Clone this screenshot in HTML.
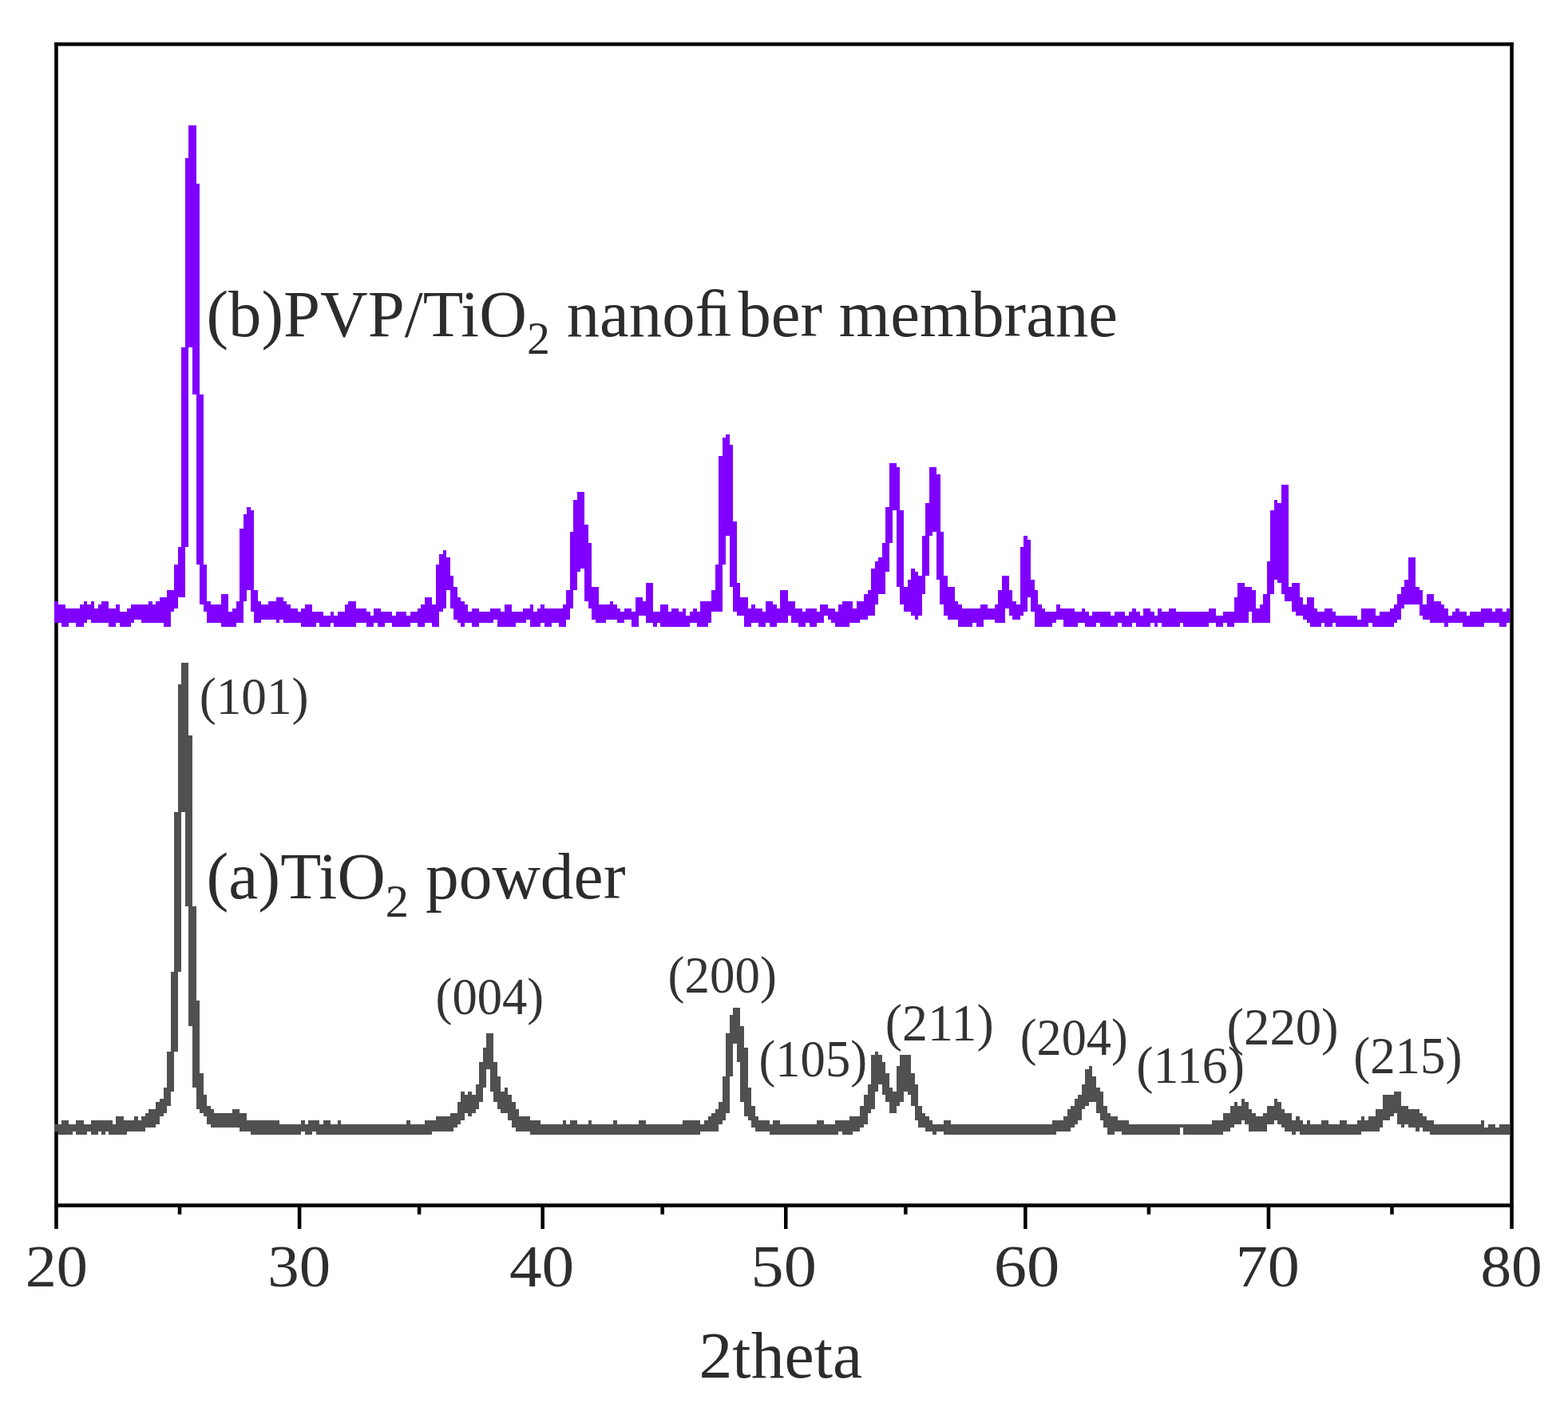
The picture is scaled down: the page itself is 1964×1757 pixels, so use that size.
<!DOCTYPE html>
<html><head><meta charset="utf-8"><style>html,body{margin:0;padding:0;background:#fff;width:1964px;height:1757px;overflow:hidden}svg{display:block}</style></head>
<body>
<svg width="1964" height="1757" viewBox="0 0 1964 1757">
<rect width="1964" height="1757" fill="#fff"/>
<rect x="68.19" y="53.10" width="1827.61" height="4.50" fill="#000"/>
<rect x="68.19" y="1507.20" width="1827.61" height="4.70" fill="#000"/>
<rect x="68.19" y="53.10" width="4.55" height="1485.90" fill="#000"/>
<rect x="1891.26" y="53.10" width="4.55" height="1485.90" fill="#000"/>
<rect x="372.80" y="1510.90" width="4.55" height="28.10" fill="#000"/>
<rect x="677.40" y="1510.90" width="4.55" height="28.10" fill="#000"/>
<rect x="982.00" y="1510.90" width="4.55" height="28.10" fill="#000"/>
<rect x="1282.06" y="1510.90" width="4.55" height="28.10" fill="#000"/>
<rect x="1586.66" y="1510.90" width="4.55" height="28.10" fill="#000"/>
<rect x="222.77" y="1510.90" width="4.55" height="9.90" fill="#000"/>
<rect x="522.82" y="1510.90" width="4.55" height="9.90" fill="#000"/>
<rect x="827.43" y="1510.90" width="4.55" height="9.90" fill="#000"/>
<rect x="1132.03" y="1510.90" width="4.55" height="9.90" fill="#000"/>
<rect x="1436.63" y="1510.90" width="4.55" height="9.90" fill="#000"/>
<rect x="1741.23" y="1510.90" width="4.55" height="9.90" fill="#000"/>
<path d="M68.19 1407.51h4.55v9.09h-4.55zM72.74 1407.51h4.55v13.64h-4.55zM77.29 1402.96h4.55v18.19h-4.55zM81.83 1402.96h4.55v18.19h-4.55zM86.38 1407.51h4.55v13.64h-4.55zM90.93 1407.51h4.55v9.09h-4.55zM95.47 1402.96h4.55v18.19h-4.55zM100.02 1402.96h4.55v18.19h-4.55zM104.56 1407.51h4.55v13.64h-4.55zM109.11 1407.51h4.55v9.09h-4.55zM113.66 1402.96h4.55v18.19h-4.55zM118.20 1402.96h4.55v18.19h-4.55zM122.75 1402.96h4.55v13.64h-4.55zM127.30 1402.96h4.55v18.19h-4.55zM131.84 1402.96h4.55v13.64h-4.55zM136.39 1402.96h4.55v18.19h-4.55zM140.94 1407.51h4.55v13.64h-4.55zM145.48 1398.41h4.55v22.73h-4.55zM150.03 1398.41h4.55v22.73h-4.55zM154.57 1402.96h4.55v18.19h-4.55zM159.12 1402.96h4.55v13.64h-4.55zM163.67 1402.96h4.55v13.64h-4.55zM168.21 1398.41h4.55v18.19h-4.55zM172.76 1402.96h4.55v13.64h-4.55zM177.31 1398.41h4.55v18.19h-4.55zM181.85 1393.87h4.55v18.19h-4.55zM186.40 1389.32h4.55v22.73h-4.55zM190.94 1389.32h4.55v22.73h-4.55zM195.49 1380.23h4.55v27.28h-4.55zM200.04 1375.68h4.55v22.73h-4.55zM204.58 1362.04h4.55v31.82h-4.55zM209.13 1316.58h4.55v68.19h-4.55zM213.68 1216.56h4.55v150.03h-4.55zM218.22 1016.52h4.55v300.06h-4.55zM222.77 857.40h4.55v359.16h-4.55zM227.31 830.13h4.55v186.40h-4.55zM231.86 830.13h4.55v304.60h-4.55zM236.41 921.05h4.55v363.70h-4.55zM240.95 1134.73h4.55v227.31h-4.55zM245.50 1252.93h4.55v136.39h-4.55zM250.05 1343.86h4.55v50.01h-4.55zM254.59 1371.14h4.55v27.28h-4.55zM259.14 1384.78h4.55v22.73h-4.55zM263.69 1389.32h4.55v22.73h-4.55zM268.23 1393.87h4.55v18.19h-4.55zM272.78 1393.87h4.55v18.19h-4.55zM277.32 1393.87h4.55v18.19h-4.55zM281.87 1393.87h4.55v18.19h-4.55zM286.42 1393.87h4.55v18.19h-4.55zM290.96 1389.32h4.55v22.73h-4.55zM295.51 1389.32h4.55v22.73h-4.55zM300.06 1393.87h4.55v22.73h-4.55zM304.60 1393.87h4.55v22.73h-4.55zM309.15 1402.96h4.55v13.64h-4.55zM313.69 1402.96h4.55v18.19h-4.55zM318.24 1402.96h4.55v18.19h-4.55zM322.79 1402.96h4.55v18.19h-4.55zM327.33 1402.96h4.55v18.19h-4.55zM331.88 1402.96h4.55v18.19h-4.55zM336.43 1402.96h4.55v18.19h-4.55zM340.97 1402.96h4.55v18.19h-4.55zM345.52 1402.96h4.55v18.19h-4.55zM350.07 1407.51h4.55v13.64h-4.55zM354.61 1407.51h4.55v13.64h-4.55zM359.16 1407.51h4.55v13.64h-4.55zM363.70 1407.51h4.55v13.64h-4.55zM368.25 1407.51h4.55v13.64h-4.55zM372.80 1407.51h4.55v13.64h-4.55zM377.34 1402.96h4.55v13.64h-4.55zM381.89 1407.51h4.55v13.64h-4.55zM386.44 1402.96h4.55v18.19h-4.55zM390.98 1402.96h4.55v13.64h-4.55zM395.53 1402.96h4.55v18.19h-4.55zM400.07 1407.51h4.55v13.64h-4.55zM404.62 1402.96h4.55v18.19h-4.55zM409.17 1402.96h4.55v18.19h-4.55zM413.71 1407.51h4.55v13.64h-4.55zM418.26 1407.51h4.55v13.64h-4.55zM422.81 1402.96h4.55v18.19h-4.55zM427.35 1407.51h4.55v13.64h-4.55zM431.90 1407.51h4.55v13.64h-4.55zM436.44 1407.51h4.55v13.64h-4.55zM440.99 1407.51h4.55v13.64h-4.55zM445.54 1407.51h4.55v13.64h-4.55zM450.08 1407.51h4.55v13.64h-4.55zM454.63 1407.51h4.55v13.64h-4.55zM459.18 1407.51h4.55v13.64h-4.55zM463.72 1407.51h4.55v13.64h-4.55zM468.27 1407.51h4.55v13.64h-4.55zM472.82 1407.51h4.55v13.64h-4.55zM477.36 1407.51h4.55v13.64h-4.55zM481.91 1407.51h4.55v13.64h-4.55zM486.45 1407.51h4.55v13.64h-4.55zM491.00 1407.51h4.55v13.64h-4.55zM495.55 1407.51h4.55v13.64h-4.55zM500.09 1407.51h4.55v13.64h-4.55zM504.64 1407.51h4.55v13.64h-4.55zM509.19 1402.96h4.55v18.19h-4.55zM513.73 1407.51h4.55v13.64h-4.55zM518.28 1407.51h4.55v13.64h-4.55zM522.82 1407.51h4.55v13.64h-4.55zM527.37 1407.51h4.55v13.64h-4.55zM531.92 1402.96h4.55v18.19h-4.55zM536.46 1402.96h4.55v18.19h-4.55zM541.01 1402.96h4.55v13.64h-4.55zM545.56 1398.41h4.55v18.19h-4.55zM550.10 1398.41h4.55v18.19h-4.55zM554.65 1398.41h4.55v18.19h-4.55zM559.19 1398.41h4.55v18.19h-4.55zM563.74 1393.87h4.55v22.73h-4.55zM568.29 1393.87h4.55v18.19h-4.55zM572.83 1380.23h4.55v27.28h-4.55zM577.38 1366.59h4.55v36.37h-4.55zM581.93 1371.14h4.55v22.73h-4.55zM586.47 1366.59h4.55v31.82h-4.55zM591.02 1371.14h4.55v22.73h-4.55zM595.57 1357.50h4.55v31.82h-4.55zM600.11 1330.22h4.55v50.01h-4.55zM604.66 1312.03h4.55v50.01h-4.55zM609.20 1293.85h4.55v45.46h-4.55zM613.75 1293.85h4.55v72.74h-4.55zM618.30 1330.22h4.55v50.01h-4.55zM622.84 1348.40h4.55v40.92h-4.55zM627.39 1366.59h4.55v27.28h-4.55zM631.94 1362.04h4.55v31.82h-4.55zM636.48 1371.14h4.55v31.82h-4.55zM641.03 1380.23h4.55v31.82h-4.55zM645.57 1389.32h4.55v27.28h-4.55zM650.12 1398.41h4.55v18.19h-4.55zM654.67 1398.41h4.55v18.19h-4.55zM659.21 1398.41h4.55v18.19h-4.55zM663.76 1402.96h4.55v18.19h-4.55zM668.31 1402.96h4.55v18.19h-4.55zM672.85 1402.96h4.55v18.19h-4.55zM677.40 1407.51h4.55v13.64h-4.55zM681.94 1407.51h4.55v13.64h-4.55zM686.49 1407.51h4.55v13.64h-4.55zM691.04 1407.51h4.55v13.64h-4.55zM695.58 1407.51h4.55v13.64h-4.55zM700.13 1407.51h4.55v13.64h-4.55zM704.68 1402.96h4.55v18.19h-4.55zM709.22 1407.51h4.55v13.64h-4.55zM713.77 1402.96h4.55v18.19h-4.55zM718.32 1402.96h4.55v18.19h-4.55zM722.86 1407.51h4.55v13.64h-4.55zM727.41 1407.51h4.55v13.64h-4.55zM731.95 1407.51h4.55v13.64h-4.55zM736.50 1402.96h4.55v18.19h-4.55zM741.05 1407.51h4.55v13.64h-4.55zM745.59 1407.51h4.55v13.64h-4.55zM750.14 1407.51h4.55v13.64h-4.55zM754.69 1407.51h4.55v13.64h-4.55zM759.23 1407.51h4.55v13.64h-4.55zM763.78 1407.51h4.55v13.64h-4.55zM768.32 1402.96h4.55v18.19h-4.55zM772.87 1407.51h4.55v13.64h-4.55zM777.42 1407.51h4.55v13.64h-4.55zM781.96 1407.51h4.55v13.64h-4.55zM786.51 1407.51h4.55v13.64h-4.55zM791.06 1407.51h4.55v13.64h-4.55zM795.60 1407.51h4.55v13.64h-4.55zM800.15 1402.96h4.55v18.19h-4.55zM804.70 1402.96h4.55v18.19h-4.55zM809.24 1407.51h4.55v13.64h-4.55zM813.79 1407.51h4.55v13.64h-4.55zM818.33 1407.51h4.55v13.64h-4.55zM822.88 1407.51h4.55v13.64h-4.55zM827.43 1407.51h4.55v13.64h-4.55zM831.97 1407.51h4.55v13.64h-4.55zM836.52 1407.51h4.55v13.64h-4.55zM841.07 1407.51h4.55v13.64h-4.55zM845.61 1407.51h4.55v13.64h-4.55zM850.16 1407.51h4.55v13.64h-4.55zM854.70 1402.96h4.55v18.19h-4.55zM859.25 1402.96h4.55v18.19h-4.55zM863.80 1402.96h4.55v18.19h-4.55zM868.34 1402.96h4.55v18.19h-4.55zM872.89 1402.96h4.55v18.19h-4.55zM877.44 1407.51h4.55v9.09h-4.55zM881.98 1402.96h4.55v13.64h-4.55zM886.53 1398.41h4.55v18.19h-4.55zM891.07 1393.87h4.55v22.73h-4.55zM895.62 1389.32h4.55v27.28h-4.55zM900.17 1380.23h4.55v27.28h-4.55zM904.71 1348.40h4.55v54.56h-4.55zM909.26 1293.85h4.55v100.02h-4.55zM913.81 1271.12h4.55v77.29h-4.55zM918.35 1262.03h4.55v45.46h-4.55zM922.90 1262.03h4.55v68.19h-4.55zM927.45 1284.76h4.55v95.47h-4.55zM931.99 1312.03h4.55v86.38h-4.55zM936.54 1362.04h4.55v40.92h-4.55zM941.08 1384.78h4.55v27.28h-4.55zM945.63 1398.41h4.55v18.19h-4.55zM950.18 1402.96h4.55v13.64h-4.55zM954.72 1402.96h4.55v13.64h-4.55zM959.27 1402.96h4.55v13.64h-4.55zM963.82 1407.51h4.55v13.64h-4.55zM968.36 1402.96h4.55v18.19h-4.55zM972.91 1402.96h4.55v18.19h-4.55zM977.45 1407.51h4.55v13.64h-4.55zM982.00 1407.51h4.55v13.64h-4.55zM986.55 1407.51h4.55v13.64h-4.55zM991.09 1407.51h4.55v13.64h-4.55zM995.64 1407.51h4.55v13.64h-4.55zM1000.19 1407.51h4.55v13.64h-4.55zM1004.73 1407.51h4.55v13.64h-4.55zM1009.28 1407.51h4.55v13.64h-4.55zM1013.82 1407.51h4.55v13.64h-4.55zM1018.37 1407.51h4.55v13.64h-4.55zM1022.92 1402.96h4.55v18.19h-4.55zM1027.46 1402.96h4.55v18.19h-4.55zM1032.01 1407.51h4.55v13.64h-4.55zM1036.56 1407.51h4.55v13.64h-4.55zM1041.10 1407.51h4.55v13.64h-4.55zM1045.65 1402.96h4.55v18.19h-4.55zM1050.20 1402.96h4.55v13.64h-4.55zM1054.74 1402.96h4.55v18.19h-4.55zM1059.29 1402.96h4.55v18.19h-4.55zM1063.83 1398.41h4.55v22.73h-4.55zM1068.38 1398.41h4.55v18.19h-4.55zM1072.93 1398.41h4.55v18.19h-4.55zM1077.47 1384.78h4.55v27.28h-4.55zM1082.02 1371.14h4.55v36.37h-4.55zM1086.57 1357.50h4.55v36.37h-4.55zM1091.11 1321.13h4.55v68.19h-4.55zM1095.66 1316.58h4.55v50.01h-4.55zM1100.20 1321.13h4.55v36.37h-4.55zM1104.75 1330.22h4.55v40.92h-4.55zM1109.30 1343.86h4.55v36.37h-4.55zM1113.84 1362.04h4.55v31.82h-4.55zM1118.39 1366.59h4.55v27.28h-4.55zM1122.94 1334.77h4.55v50.01h-4.55zM1127.48 1321.13h4.55v59.10h-4.55zM1132.03 1321.13h4.55v45.46h-4.55zM1136.57 1321.13h4.55v50.01h-4.55zM1141.12 1343.86h4.55v40.92h-4.55zM1145.67 1357.50h4.55v45.46h-4.55zM1150.21 1384.78h4.55v27.28h-4.55zM1154.76 1393.87h4.55v18.19h-4.55zM1159.31 1398.41h4.55v18.19h-4.55zM1163.85 1402.96h4.55v13.64h-4.55zM1168.40 1407.51h4.55v13.64h-4.55zM1172.95 1407.51h4.55v9.09h-4.55zM1177.49 1407.51h4.55v9.09h-4.55zM1182.04 1402.96h4.55v18.19h-4.55zM1186.58 1402.96h4.55v18.19h-4.55zM1191.13 1407.51h4.55v13.64h-4.55zM1195.68 1407.51h4.55v13.64h-4.55zM1200.22 1407.51h4.55v13.64h-4.55zM1204.77 1407.51h4.55v13.64h-4.55zM1209.32 1407.51h4.55v13.64h-4.55zM1213.86 1407.51h4.55v13.64h-4.55zM1218.41 1407.51h4.55v13.64h-4.55zM1222.95 1407.51h4.55v13.64h-4.55zM1227.50 1407.51h4.55v13.64h-4.55zM1232.05 1407.51h4.55v13.64h-4.55zM1236.59 1407.51h4.55v13.64h-4.55zM1241.14 1407.51h4.55v13.64h-4.55zM1245.69 1407.51h4.55v13.64h-4.55zM1250.23 1407.51h4.55v13.64h-4.55zM1254.78 1407.51h4.55v13.64h-4.55zM1259.33 1407.51h4.55v13.64h-4.55zM1263.87 1407.51h4.55v13.64h-4.55zM1268.42 1407.51h4.55v13.64h-4.55zM1272.96 1407.51h4.55v13.64h-4.55zM1277.51 1407.51h4.55v13.64h-4.55zM1282.06 1407.51h4.55v13.64h-4.55zM1286.60 1407.51h4.55v13.64h-4.55zM1291.15 1407.51h4.55v13.64h-4.55zM1295.70 1407.51h4.55v13.64h-4.55zM1300.24 1407.51h4.55v13.64h-4.55zM1304.79 1407.51h4.55v13.64h-4.55zM1309.33 1407.51h4.55v13.64h-4.55zM1313.88 1407.51h4.55v13.64h-4.55zM1318.43 1402.96h4.55v18.19h-4.55zM1322.97 1402.96h4.55v13.64h-4.55zM1327.52 1402.96h4.55v13.64h-4.55zM1332.07 1398.41h4.55v18.19h-4.55zM1336.61 1389.32h4.55v27.28h-4.55zM1341.16 1384.78h4.55v27.28h-4.55zM1345.70 1375.68h4.55v31.82h-4.55zM1350.25 1371.14h4.55v31.82h-4.55zM1354.80 1357.50h4.55v31.82h-4.55zM1359.34 1339.31h4.55v45.46h-4.55zM1363.89 1334.77h4.55v45.46h-4.55zM1368.44 1348.40h4.55v31.82h-4.55zM1372.98 1362.04h4.55v31.82h-4.55zM1377.53 1366.59h4.55v36.37h-4.55zM1382.08 1384.78h4.55v27.28h-4.55zM1386.62 1393.87h4.55v27.28h-4.55zM1391.17 1398.41h4.55v22.73h-4.55zM1395.71 1398.41h4.55v18.19h-4.55zM1400.26 1402.96h4.55v13.64h-4.55zM1404.81 1402.96h4.55v18.19h-4.55zM1409.35 1402.96h4.55v18.19h-4.55zM1413.90 1407.51h4.55v13.64h-4.55zM1418.45 1407.51h4.55v13.64h-4.55zM1422.99 1407.51h4.55v13.64h-4.55zM1427.54 1407.51h4.55v13.64h-4.55zM1432.08 1407.51h4.55v13.64h-4.55zM1436.63 1407.51h4.55v13.64h-4.55zM1441.18 1407.51h4.55v13.64h-4.55zM1445.72 1407.51h4.55v13.64h-4.55zM1450.27 1407.51h4.55v13.64h-4.55zM1454.82 1407.51h4.55v13.64h-4.55zM1459.36 1407.51h4.55v13.64h-4.55zM1463.91 1407.51h4.55v13.64h-4.55zM1468.45 1407.51h4.55v13.64h-4.55zM1473.00 1407.51h4.55v13.64h-4.55zM1477.55 1407.51h4.55v4.55h-4.55zM1482.09 1407.51h4.55v13.64h-4.55zM1486.64 1407.51h4.55v13.64h-4.55zM1491.19 1407.51h4.55v13.64h-4.55zM1495.73 1407.51h4.55v13.64h-4.55zM1500.28 1407.51h4.55v13.64h-4.55zM1504.83 1407.51h4.55v13.64h-4.55zM1509.37 1407.51h4.55v13.64h-4.55zM1513.92 1407.51h4.55v13.64h-4.55zM1518.46 1402.96h4.55v18.19h-4.55zM1523.01 1402.96h4.55v18.19h-4.55zM1527.56 1402.96h4.55v18.19h-4.55zM1532.10 1393.87h4.55v22.73h-4.55zM1536.65 1393.87h4.55v22.73h-4.55zM1541.20 1384.78h4.55v27.28h-4.55zM1545.74 1380.23h4.55v27.28h-4.55zM1550.29 1384.78h4.55v22.73h-4.55zM1554.83 1375.68h4.55v27.28h-4.55zM1559.38 1380.23h4.55v27.28h-4.55zM1563.93 1389.32h4.55v27.28h-4.55zM1568.47 1393.87h4.55v22.73h-4.55zM1573.02 1398.41h4.55v18.19h-4.55zM1577.57 1398.41h4.55v18.19h-4.55zM1582.11 1393.87h4.55v22.73h-4.55zM1586.66 1384.78h4.55v22.73h-4.55zM1591.20 1384.78h4.55v22.73h-4.55zM1595.75 1375.68h4.55v27.28h-4.55zM1600.30 1380.23h4.55v27.28h-4.55zM1604.84 1389.32h4.55v22.73h-4.55zM1609.39 1393.87h4.55v22.73h-4.55zM1613.94 1393.87h4.55v22.73h-4.55zM1618.48 1402.96h4.55v18.19h-4.55zM1623.03 1398.41h4.55v18.19h-4.55zM1627.58 1402.96h4.55v18.19h-4.55zM1632.12 1407.51h4.55v13.64h-4.55zM1636.67 1402.96h4.55v18.19h-4.55zM1641.21 1407.51h4.55v13.64h-4.55zM1645.76 1407.51h4.55v13.64h-4.55zM1650.31 1407.51h4.55v13.64h-4.55zM1654.85 1402.96h4.55v18.19h-4.55zM1659.40 1402.96h4.55v18.19h-4.55zM1663.95 1407.51h4.55v13.64h-4.55zM1668.49 1407.51h4.55v13.64h-4.55zM1673.04 1407.51h4.55v13.64h-4.55zM1677.58 1402.96h4.55v18.19h-4.55zM1682.13 1402.96h4.55v18.19h-4.55zM1686.68 1407.51h4.55v13.64h-4.55zM1691.22 1407.51h4.55v13.64h-4.55zM1695.77 1407.51h4.55v13.64h-4.55zM1700.32 1402.96h4.55v18.19h-4.55zM1704.86 1398.41h4.55v18.19h-4.55zM1709.41 1402.96h4.55v13.64h-4.55zM1713.96 1398.41h4.55v18.19h-4.55zM1718.50 1398.41h4.55v18.19h-4.55zM1723.05 1389.32h4.55v27.28h-4.55zM1727.59 1389.32h4.55v22.73h-4.55zM1732.14 1371.14h4.55v31.82h-4.55zM1736.69 1371.14h4.55v31.82h-4.55zM1741.23 1371.14h4.55v27.28h-4.55zM1745.78 1366.59h4.55v27.28h-4.55zM1750.33 1366.59h4.55v40.92h-4.55zM1754.87 1384.78h4.55v27.28h-4.55zM1759.42 1384.78h4.55v22.73h-4.55zM1763.96 1389.32h4.55v22.73h-4.55zM1768.51 1389.32h4.55v22.73h-4.55zM1773.06 1389.32h4.55v27.28h-4.55zM1777.60 1393.87h4.55v18.19h-4.55zM1782.15 1398.41h4.55v18.19h-4.55zM1786.70 1402.96h4.55v13.64h-4.55zM1791.24 1402.96h4.55v18.19h-4.55zM1795.79 1407.51h4.55v13.64h-4.55zM1800.33 1407.51h4.55v13.64h-4.55zM1804.88 1407.51h4.55v13.64h-4.55zM1809.43 1407.51h4.55v13.64h-4.55zM1813.97 1407.51h4.55v13.64h-4.55zM1818.52 1407.51h4.55v13.64h-4.55zM1823.07 1407.51h4.55v13.64h-4.55zM1827.61 1407.51h4.55v13.64h-4.55zM1832.16 1407.51h4.55v13.64h-4.55zM1836.71 1407.51h4.55v13.64h-4.55zM1841.25 1407.51h4.55v13.64h-4.55zM1845.80 1407.51h4.55v13.64h-4.55zM1850.34 1407.51h4.55v13.64h-4.55zM1854.89 1402.96h4.55v18.19h-4.55zM1859.44 1412.05h4.55v9.09h-4.55zM1863.98 1407.51h4.55v13.64h-4.55zM1868.53 1407.51h4.55v13.64h-4.55zM1873.08 1412.05h4.55v9.09h-4.55zM1877.62 1407.51h4.55v13.64h-4.55zM1882.17 1407.51h4.55v13.64h-4.55zM1886.71 1407.51h4.55v13.64h-4.55z" fill="#505050" shape-rendering="crispEdges"/>
<path d="M68.19 752.84h4.55v27.28h-4.55zM72.74 757.39h4.55v22.73h-4.55zM77.29 757.39h4.55v27.28h-4.55zM81.83 761.93h4.55v22.73h-4.55zM86.38 761.93h4.55v18.19h-4.55zM90.93 761.93h4.55v18.19h-4.55zM95.47 761.93h4.55v22.73h-4.55zM100.02 757.39h4.55v27.28h-4.55zM104.56 752.84h4.55v27.28h-4.55zM109.11 757.39h4.55v18.19h-4.55zM113.66 752.84h4.55v27.28h-4.55zM118.20 761.93h4.55v18.19h-4.55zM122.75 757.39h4.55v22.73h-4.55zM127.30 752.84h4.55v27.28h-4.55zM131.84 752.84h4.55v27.28h-4.55zM136.39 761.93h4.55v22.73h-4.55zM140.94 761.93h4.55v22.73h-4.55zM145.48 757.39h4.55v22.73h-4.55zM150.03 766.48h4.55v18.19h-4.55zM154.57 766.48h4.55v18.19h-4.55zM159.12 761.93h4.55v22.73h-4.55zM163.67 757.39h4.55v22.73h-4.55zM168.21 757.39h4.55v18.19h-4.55zM172.76 757.39h4.55v18.19h-4.55zM177.31 757.39h4.55v22.73h-4.55zM181.85 757.39h4.55v22.73h-4.55zM186.40 752.84h4.55v27.28h-4.55zM190.94 757.39h4.55v22.73h-4.55zM195.49 752.84h4.55v27.28h-4.55zM200.04 748.29h4.55v31.82h-4.55zM204.58 748.29h4.55v36.37h-4.55zM209.13 739.20h4.55v45.46h-4.55zM213.68 739.20h4.55v27.28h-4.55zM218.22 707.38h4.55v54.56h-4.55zM222.77 684.64h4.55v63.65h-4.55zM227.31 434.60h4.55v313.69h-4.55zM231.86 198.19h4.55v486.45h-4.55zM236.41 157.27h4.55v277.32h-4.55zM240.95 157.27h4.55v336.43h-4.55zM245.50 230.01h4.55v477.36h-4.55zM250.05 493.70h4.55v263.69h-4.55zM254.59 707.38h4.55v59.10h-4.55zM259.14 752.84h4.55v27.28h-4.55zM263.69 757.39h4.55v22.73h-4.55zM268.23 757.39h4.55v22.73h-4.55zM272.78 757.39h4.55v22.73h-4.55zM277.32 743.75h4.55v40.92h-4.55zM281.87 743.75h4.55v40.92h-4.55zM286.42 766.48h4.55v18.19h-4.55zM290.96 761.93h4.55v22.73h-4.55zM295.51 752.84h4.55v27.28h-4.55zM300.06 661.91h4.55v118.20h-4.55zM304.60 643.73h4.55v109.11h-4.55zM309.15 634.64h4.55v104.56h-4.55zM313.69 639.18h4.55v127.30h-4.55zM318.24 739.20h4.55v40.92h-4.55zM322.79 752.84h4.55v27.28h-4.55zM327.33 757.39h4.55v18.19h-4.55zM331.88 757.39h4.55v18.19h-4.55zM336.43 752.84h4.55v22.73h-4.55zM340.97 752.84h4.55v22.73h-4.55zM345.52 748.29h4.55v31.82h-4.55zM350.07 748.29h4.55v27.28h-4.55zM354.61 752.84h4.55v27.28h-4.55zM359.16 757.39h4.55v22.73h-4.55zM363.70 761.93h4.55v18.19h-4.55zM368.25 761.93h4.55v18.19h-4.55zM372.80 766.48h4.55v13.64h-4.55zM377.34 761.93h4.55v22.73h-4.55zM381.89 757.39h4.55v27.28h-4.55zM386.44 757.39h4.55v27.28h-4.55zM390.98 766.48h4.55v18.19h-4.55zM395.53 766.48h4.55v13.64h-4.55zM400.07 766.48h4.55v18.19h-4.55zM404.62 771.02h4.55v13.64h-4.55zM409.17 771.02h4.55v13.64h-4.55zM413.71 766.48h4.55v13.64h-4.55zM418.26 771.02h4.55v13.64h-4.55zM422.81 766.48h4.55v18.19h-4.55zM427.35 766.48h4.55v18.19h-4.55zM431.90 757.39h4.55v27.28h-4.55zM436.44 752.84h4.55v31.82h-4.55zM440.99 752.84h4.55v31.82h-4.55zM445.54 761.93h4.55v18.19h-4.55zM450.08 761.93h4.55v18.19h-4.55zM454.63 761.93h4.55v18.19h-4.55zM459.18 766.48h4.55v18.19h-4.55zM463.72 771.02h4.55v13.64h-4.55zM468.27 761.93h4.55v18.19h-4.55zM472.82 761.93h4.55v22.73h-4.55zM477.36 766.48h4.55v18.19h-4.55zM481.91 766.48h4.55v13.64h-4.55zM486.45 766.48h4.55v13.64h-4.55zM491.00 771.02h4.55v13.64h-4.55zM495.55 766.48h4.55v18.19h-4.55zM500.09 766.48h4.55v18.19h-4.55zM504.64 766.48h4.55v18.19h-4.55zM509.19 771.02h4.55v13.64h-4.55zM513.73 766.48h4.55v13.64h-4.55zM518.28 766.48h4.55v13.64h-4.55zM522.82 761.93h4.55v22.73h-4.55zM527.37 757.39h4.55v27.28h-4.55zM531.92 748.29h4.55v31.82h-4.55zM536.46 748.29h4.55v31.82h-4.55zM541.01 757.39h4.55v27.28h-4.55zM545.56 707.38h4.55v77.29h-4.55zM550.10 693.74h4.55v72.74h-4.55zM554.65 689.19h4.55v72.74h-4.55zM559.19 698.28h4.55v40.92h-4.55zM563.74 721.02h4.55v40.92h-4.55zM568.29 734.65h4.55v40.92h-4.55zM572.83 748.29h4.55v31.82h-4.55zM577.38 752.84h4.55v31.82h-4.55zM581.93 757.39h4.55v22.73h-4.55zM586.47 766.48h4.55v13.64h-4.55zM591.02 761.93h4.55v22.73h-4.55zM595.57 761.93h4.55v22.73h-4.55zM600.11 766.48h4.55v13.64h-4.55zM604.66 766.48h4.55v13.64h-4.55zM609.20 766.48h4.55v13.64h-4.55zM613.75 761.93h4.55v18.19h-4.55zM618.30 761.93h4.55v13.64h-4.55zM622.84 761.93h4.55v22.73h-4.55zM627.39 766.48h4.55v18.19h-4.55zM631.94 757.39h4.55v27.28h-4.55zM636.48 757.39h4.55v27.28h-4.55zM641.03 766.48h4.55v18.19h-4.55zM645.57 766.48h4.55v13.64h-4.55zM650.12 766.48h4.55v13.64h-4.55zM654.67 761.93h4.55v18.19h-4.55zM659.21 761.93h4.55v13.64h-4.55zM663.76 757.39h4.55v27.28h-4.55zM668.31 766.48h4.55v18.19h-4.55zM672.85 761.93h4.55v22.73h-4.55zM677.40 757.39h4.55v22.73h-4.55zM681.94 761.93h4.55v22.73h-4.55zM686.49 761.93h4.55v22.73h-4.55zM691.04 761.93h4.55v18.19h-4.55zM695.58 761.93h4.55v18.19h-4.55zM700.13 761.93h4.55v22.73h-4.55zM704.68 757.39h4.55v27.28h-4.55zM709.22 739.20h4.55v36.37h-4.55zM713.77 666.46h4.55v95.47h-4.55zM718.32 625.54h4.55v113.66h-4.55zM722.86 616.45h4.55v100.02h-4.55zM727.41 616.45h4.55v95.47h-4.55zM731.95 657.37h4.55v95.47h-4.55zM736.50 680.10h4.55v81.83h-4.55zM741.05 734.65h4.55v40.92h-4.55zM745.59 734.65h4.55v45.46h-4.55zM750.14 757.39h4.55v22.73h-4.55zM754.69 757.39h4.55v22.73h-4.55zM759.23 757.39h4.55v18.19h-4.55zM763.78 752.84h4.55v22.73h-4.55zM768.32 757.39h4.55v18.19h-4.55zM772.87 761.93h4.55v18.19h-4.55zM777.42 766.48h4.55v13.64h-4.55zM781.96 761.93h4.55v13.64h-4.55zM786.51 761.93h4.55v13.64h-4.55zM791.06 766.48h4.55v18.19h-4.55zM795.60 748.29h4.55v36.37h-4.55zM800.15 748.29h4.55v22.73h-4.55zM804.70 752.84h4.55v18.19h-4.55zM809.24 730.11h4.55v50.01h-4.55zM813.79 730.11h4.55v50.01h-4.55zM818.33 766.48h4.55v18.19h-4.55zM822.88 766.48h4.55v13.64h-4.55zM827.43 757.39h4.55v27.28h-4.55zM831.97 757.39h4.55v27.28h-4.55zM836.52 766.48h4.55v18.19h-4.55zM841.07 761.93h4.55v22.73h-4.55zM845.61 761.93h4.55v22.73h-4.55zM850.16 766.48h4.55v18.19h-4.55zM854.70 761.93h4.55v22.73h-4.55zM859.25 771.02h4.55v13.64h-4.55zM863.80 766.48h4.55v13.64h-4.55zM868.34 761.93h4.55v18.19h-4.55zM872.89 766.48h4.55v18.19h-4.55zM877.44 752.84h4.55v31.82h-4.55zM881.98 752.84h4.55v31.82h-4.55zM886.53 752.84h4.55v27.28h-4.55zM891.07 739.20h4.55v27.28h-4.55zM895.62 707.38h4.55v59.10h-4.55zM900.17 570.99h4.55v195.49h-4.55zM904.71 548.26h4.55v159.12h-4.55zM909.26 543.71h4.55v127.30h-4.55zM913.81 557.35h4.55v177.31h-4.55zM918.35 652.82h4.55v113.66h-4.55zM922.90 730.11h4.55v40.92h-4.55zM927.45 748.29h4.55v22.73h-4.55zM931.99 748.29h4.55v36.37h-4.55zM936.54 761.93h4.55v22.73h-4.55zM941.08 757.39h4.55v22.73h-4.55zM945.63 761.93h4.55v18.19h-4.55zM950.18 761.93h4.55v22.73h-4.55zM954.72 766.48h4.55v18.19h-4.55zM959.27 752.84h4.55v27.28h-4.55zM963.82 752.84h4.55v31.82h-4.55zM968.36 757.39h4.55v27.28h-4.55zM972.91 761.93h4.55v18.19h-4.55zM977.45 739.20h4.55v40.92h-4.55zM982.00 739.20h4.55v40.92h-4.55zM986.55 752.84h4.55v18.19h-4.55zM991.09 752.84h4.55v27.28h-4.55zM995.64 761.93h4.55v18.19h-4.55zM1000.19 761.93h4.55v22.73h-4.55zM1004.73 766.48h4.55v18.19h-4.55zM1009.28 761.93h4.55v18.19h-4.55zM1013.82 761.93h4.55v22.73h-4.55zM1018.37 761.93h4.55v22.73h-4.55zM1022.92 766.48h4.55v13.64h-4.55zM1027.46 757.39h4.55v22.73h-4.55zM1032.01 757.39h4.55v13.64h-4.55zM1036.56 761.93h4.55v13.64h-4.55zM1041.10 761.93h4.55v18.19h-4.55zM1045.65 766.48h4.55v18.19h-4.55zM1050.20 757.39h4.55v27.28h-4.55zM1054.74 752.84h4.55v31.82h-4.55zM1059.29 752.84h4.55v31.82h-4.55zM1063.83 752.84h4.55v27.28h-4.55zM1068.38 761.93h4.55v18.19h-4.55zM1072.93 752.84h4.55v27.28h-4.55zM1077.47 752.84h4.55v22.73h-4.55zM1082.02 743.75h4.55v31.82h-4.55zM1086.57 739.20h4.55v31.82h-4.55zM1091.11 711.92h4.55v59.10h-4.55zM1095.66 702.83h4.55v54.56h-4.55zM1100.20 698.28h4.55v45.46h-4.55zM1104.75 680.10h4.55v63.65h-4.55zM1109.30 634.64h4.55v81.83h-4.55zM1113.84 580.08h4.55v100.02h-4.55zM1118.39 580.08h4.55v59.10h-4.55zM1122.94 584.63h4.55v150.03h-4.55zM1127.48 639.18h4.55v118.20h-4.55zM1132.03 734.65h4.55v31.82h-4.55zM1136.57 725.56h4.55v40.92h-4.55zM1141.12 711.92h4.55v59.10h-4.55zM1145.67 716.47h4.55v59.10h-4.55zM1150.21 721.02h4.55v50.01h-4.55zM1154.76 671.01h4.55v72.74h-4.55zM1159.31 630.09h4.55v90.93h-4.55zM1163.85 584.63h4.55v86.38h-4.55zM1168.40 584.63h4.55v81.83h-4.55zM1172.95 593.72h4.55v131.84h-4.55zM1177.49 666.46h4.55v90.93h-4.55zM1182.04 721.02h4.55v50.01h-4.55zM1186.58 734.65h4.55v40.92h-4.55zM1191.13 734.65h4.55v40.92h-4.55zM1195.68 752.84h4.55v22.73h-4.55zM1200.22 757.39h4.55v27.28h-4.55zM1204.77 761.93h4.55v22.73h-4.55zM1209.32 761.93h4.55v22.73h-4.55zM1213.86 761.93h4.55v22.73h-4.55zM1218.41 761.93h4.55v18.19h-4.55zM1222.95 761.93h4.55v22.73h-4.55zM1227.50 757.39h4.55v27.28h-4.55zM1232.05 757.39h4.55v18.19h-4.55zM1236.59 761.93h4.55v13.64h-4.55zM1241.14 761.93h4.55v13.64h-4.55zM1245.69 757.39h4.55v22.73h-4.55zM1250.23 739.20h4.55v40.92h-4.55zM1254.78 721.02h4.55v59.10h-4.55zM1259.33 721.02h4.55v40.92h-4.55zM1263.87 739.20h4.55v31.82h-4.55zM1268.42 752.84h4.55v22.73h-4.55zM1272.96 757.39h4.55v18.19h-4.55zM1277.51 684.64h4.55v86.38h-4.55zM1282.06 671.01h4.55v95.47h-4.55zM1286.60 675.55h4.55v72.74h-4.55zM1291.15 725.56h4.55v40.92h-4.55zM1295.70 739.20h4.55v45.46h-4.55zM1300.24 757.39h4.55v27.28h-4.55zM1304.79 761.93h4.55v22.73h-4.55zM1309.33 766.48h4.55v18.19h-4.55zM1313.88 766.48h4.55v18.19h-4.55zM1318.43 766.48h4.55v13.64h-4.55zM1322.97 757.39h4.55v18.19h-4.55zM1327.52 761.93h4.55v13.64h-4.55zM1332.07 761.93h4.55v22.73h-4.55zM1336.61 761.93h4.55v22.73h-4.55zM1341.16 761.93h4.55v22.73h-4.55zM1345.70 766.48h4.55v18.19h-4.55zM1350.25 766.48h4.55v13.64h-4.55zM1354.80 761.93h4.55v18.19h-4.55zM1359.34 766.48h4.55v18.19h-4.55zM1363.89 771.02h4.55v13.64h-4.55zM1368.44 766.48h4.55v18.19h-4.55zM1372.98 766.48h4.55v13.64h-4.55zM1377.53 766.48h4.55v18.19h-4.55zM1382.08 766.48h4.55v18.19h-4.55zM1386.62 766.48h4.55v18.19h-4.55zM1391.17 771.02h4.55v13.64h-4.55zM1395.71 766.48h4.55v18.19h-4.55zM1400.26 766.48h4.55v13.64h-4.55zM1404.81 766.48h4.55v18.19h-4.55zM1409.35 771.02h4.55v13.64h-4.55zM1413.90 766.48h4.55v18.19h-4.55zM1418.45 761.93h4.55v18.19h-4.55zM1422.99 766.48h4.55v18.19h-4.55zM1427.54 771.02h4.55v13.64h-4.55zM1432.08 761.93h4.55v22.73h-4.55zM1436.63 761.93h4.55v22.73h-4.55zM1441.18 766.48h4.55v13.64h-4.55zM1445.72 771.02h4.55v13.64h-4.55zM1450.27 761.93h4.55v18.19h-4.55zM1454.82 766.48h4.55v18.19h-4.55zM1459.36 766.48h4.55v18.19h-4.55zM1463.91 761.93h4.55v22.73h-4.55zM1468.45 761.93h4.55v22.73h-4.55zM1473.00 766.48h4.55v18.19h-4.55zM1477.55 766.48h4.55v13.64h-4.55zM1482.09 766.48h4.55v18.19h-4.55zM1486.64 766.48h4.55v18.19h-4.55zM1491.19 766.48h4.55v18.19h-4.55zM1495.73 766.48h4.55v18.19h-4.55zM1500.28 766.48h4.55v18.19h-4.55zM1504.83 766.48h4.55v18.19h-4.55zM1509.37 766.48h4.55v18.19h-4.55zM1513.92 761.93h4.55v18.19h-4.55zM1518.46 761.93h4.55v18.19h-4.55zM1523.01 771.02h4.55v13.64h-4.55zM1527.56 771.02h4.55v13.64h-4.55zM1532.10 766.48h4.55v13.64h-4.55zM1536.65 766.48h4.55v18.19h-4.55zM1541.20 766.48h4.55v18.19h-4.55zM1545.74 748.29h4.55v31.82h-4.55zM1550.29 730.11h4.55v50.01h-4.55zM1554.83 730.11h4.55v50.01h-4.55zM1559.38 734.65h4.55v45.46h-4.55zM1563.93 734.65h4.55v31.82h-4.55zM1568.47 739.20h4.55v40.92h-4.55zM1573.02 761.93h4.55v18.19h-4.55zM1577.57 757.39h4.55v22.73h-4.55zM1582.11 743.75h4.55v36.37h-4.55zM1586.66 702.83h4.55v77.29h-4.55zM1591.20 639.18h4.55v104.56h-4.55zM1595.75 625.54h4.55v100.02h-4.55zM1600.30 630.09h4.55v100.02h-4.55zM1604.84 607.36h4.55v136.39h-4.55zM1609.39 607.36h4.55v145.48h-4.55zM1613.94 734.65h4.55v18.19h-4.55zM1618.48 730.11h4.55v36.37h-4.55zM1623.03 730.11h4.55v40.92h-4.55zM1627.58 748.29h4.55v22.73h-4.55zM1632.12 757.39h4.55v18.19h-4.55zM1636.67 748.29h4.55v31.82h-4.55zM1641.21 748.29h4.55v36.37h-4.55zM1645.76 761.93h4.55v22.73h-4.55zM1650.31 766.48h4.55v18.19h-4.55zM1654.85 766.48h4.55v13.64h-4.55zM1659.40 761.93h4.55v22.73h-4.55zM1663.95 761.93h4.55v22.73h-4.55zM1668.49 766.48h4.55v13.64h-4.55zM1673.04 771.02h4.55v13.64h-4.55zM1677.58 771.02h4.55v13.64h-4.55zM1682.13 771.02h4.55v13.64h-4.55zM1686.68 771.02h4.55v13.64h-4.55zM1691.22 771.02h4.55v13.64h-4.55zM1695.77 771.02h4.55v13.64h-4.55zM1700.32 775.57h4.55v9.09h-4.55zM1704.86 761.93h4.55v22.73h-4.55zM1709.41 761.93h4.55v22.73h-4.55zM1713.96 761.93h4.55v18.19h-4.55zM1718.50 761.93h4.55v22.73h-4.55zM1723.05 771.02h4.55v13.64h-4.55zM1727.59 766.48h4.55v18.19h-4.55zM1732.14 766.48h4.55v18.19h-4.55zM1736.69 766.48h4.55v18.19h-4.55zM1741.23 761.93h4.55v22.73h-4.55zM1745.78 757.39h4.55v22.73h-4.55zM1750.33 743.75h4.55v31.82h-4.55zM1754.87 734.65h4.55v27.28h-4.55zM1759.42 725.56h4.55v31.82h-4.55zM1763.96 698.28h4.55v59.10h-4.55zM1768.51 698.28h4.55v59.10h-4.55zM1773.06 734.65h4.55v22.73h-4.55zM1777.60 739.20h4.55v31.82h-4.55zM1782.15 757.39h4.55v18.19h-4.55zM1786.70 743.75h4.55v31.82h-4.55zM1791.24 743.75h4.55v36.37h-4.55zM1795.79 752.84h4.55v27.28h-4.55zM1800.33 752.84h4.55v27.28h-4.55zM1804.88 757.39h4.55v22.73h-4.55zM1809.43 761.93h4.55v22.73h-4.55zM1813.97 771.02h4.55v9.09h-4.55zM1818.52 766.48h4.55v13.64h-4.55zM1823.07 761.93h4.55v18.19h-4.55zM1827.61 766.48h4.55v13.64h-4.55zM1832.16 766.48h4.55v18.19h-4.55zM1836.71 771.02h4.55v13.64h-4.55zM1841.25 766.48h4.55v18.19h-4.55zM1845.80 766.48h4.55v18.19h-4.55zM1850.34 766.48h4.55v18.19h-4.55zM1854.89 761.93h4.55v22.73h-4.55zM1859.44 761.93h4.55v18.19h-4.55zM1863.98 761.93h4.55v18.19h-4.55zM1868.53 766.48h4.55v13.64h-4.55zM1873.08 761.93h4.55v18.19h-4.55zM1877.62 761.93h4.55v22.73h-4.55zM1882.17 766.48h4.55v18.19h-4.55zM1886.71 761.93h4.55v18.19h-4.55z" fill="#8000ff" shape-rendering="crispEdges"/>
<g font-family="'Liberation Serif','Times New Roman',serif" fill="#333">
<text transform="translate(258.51 420.70) scale(0.9969 1)" font-size="83.00" fill="#2c2c2c">(b)PVP/TiO<tspan font-size="58" dy="22.5">2</tspan><tspan dy="-22.5"> nanoﬁ<tspan dx="8">ber</tspan> membrane</tspan></text>
<text transform="translate(258.47 1125.10) scale(1.0068 1)" font-size="83.00" fill="#2c2c2c">(a)TiO<tspan font-size="58" dy="22.5">2</tspan><tspan dy="-22.5"> powder</tspan></text>
<text transform="translate(249.68 893.80) scale(0.9733 1)" font-size="65.00" fill="#333333">(101)</text>
<text transform="translate(545.61 1269.80) scale(0.9630 1)" font-size="65.00" fill="#333333">(004)</text>
<text transform="translate(836.60 1243.10) scale(0.9681 1)" font-size="65.00" fill="#333333">(200)</text>
<text transform="translate(950.41 1348.20) scale(0.9637 1)" font-size="65.00" fill="#333333">(105)</text>
<text transform="translate(1108.85 1302.70) scale(0.9820 1)" font-size="65.00" fill="#333333">(211)</text>
<text transform="translate(1277.82 1320.80) scale(0.9585 1)" font-size="65.00" fill="#333333">(204)</text>
<text transform="translate(1423.16 1356.10) scale(0.9812 1)" font-size="65.00" fill="#333333">(116)</text>
<text transform="translate(1536.51 1307.70) scale(0.9956 1)" font-size="65.00" fill="#333333">(220)</text>
<text transform="translate(1695.20 1343.70) scale(0.9674 1)" font-size="65.00" fill="#333333">(215)</text>
<text transform="translate(31.67 1610.80) scale(1.0435 1)" font-size="75.00" fill="#2e2e2e">20</text>
<text transform="translate(335.29 1610.80) scale(1.0515 1)" font-size="75.00" fill="#2e2e2e">30</text>
<text transform="translate(637.92 1610.80) scale(1.0845 1)" font-size="75.00" fill="#2e2e2e">40</text>
<text transform="translate(940.62 1610.80) scale(1.0956 1)" font-size="75.00" fill="#2e2e2e">50</text>
<text transform="translate(1244.70 1610.80) scale(1.1014 1)" font-size="75.00" fill="#2e2e2e">60</text>
<text transform="translate(1547.66 1610.80) scale(1.0672 1)" font-size="75.00" fill="#2e2e2e">70</text>
<text transform="translate(1854.41 1610.80) scale(1.0290 1)" font-size="75.00" fill="#2e2e2e">80</text>
<text transform="translate(875.46 1724.90) scale(1.0101 1)" font-size="83.00" fill="#2c2c2c">2theta</text>
</g>
</svg>
</body></html>
